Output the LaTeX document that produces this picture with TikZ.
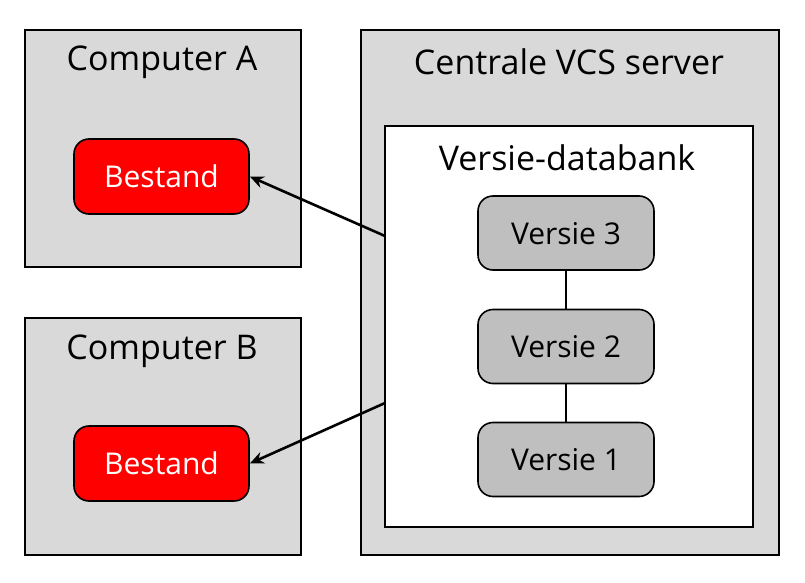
\documentclass[tikz,border=0pt]{standalone}
\usepackage{fontspec}
\setmainfont{Open Sans}
\usetikzlibrary{arrows.meta}
\definecolor{boxgray}{HTML}{D9D9D9}
\definecolor{vergray}{HTML}{BFBFBF}
\definecolor{filered}{HTML}{FF0000}
\tikzset{
  frame/.style={draw=black, line width=2pt, fill=boxgray, inner sep=0pt, anchor=north west},
  dbframe/.style={draw=black, line width=2pt, fill=white, inner sep=0pt, anchor=north west},
  filebox/.style={draw=black, line width=1.6pt, fill=filered, rounded corners=15pt,
    minimum width=175pt, minimum height=75pt, inner sep=0pt, text=white,
    font=\fontsize{30}{34}\selectfont, text depth=0pt},
  verbox/.style={draw=black, line width=1.6pt, fill=vergray, rounded corners=15pt,
    minimum width=176pt, minimum height=74pt, inner sep=0pt,
    font=\fontsize{30}{34}\selectfont, text depth=0pt},
  title/.style={font=\fontsize{34}{40}\selectfont, inner sep=0pt},
  push/.style={line width=2.6pt, -{Stealth[length=14pt, width=12pt]}},
  link/.style={line width=2.2pt}
}
\begin{document}
\begin{tikzpicture}[x=1pt, y=-1pt]
  \useasboundingbox (0,0) rectangle (805,583);
  % client machines
  \node[frame, minimum width=276pt, minimum height=237pt] (compA) at (24,29) {};
  \node[title] (compAt) at (162,62) {Computer A};
  \node[filebox] (bA) at (161.5,176.5) {Bestand};
  \node[frame, minimum width=276pt, minimum height=237pt] (compB) at (24,317) {};
  \node[title] (compBt) at (162,351) {Computer B};
  \node[filebox] (bB) at (161.5,463.5) {Bestand};
  % central server with its version database
  \node[frame, minimum width=418pt, minimum height=525pt] (srv) at (360,29) {};
  \node[title] (srvt) at (569,62) {Centrale VCS server};
  \node[dbframe, minimum width=368pt, minimum height=401pt] (db) at (384,125) {};
  \node[title] (dbt) at (567,158) {Versie-databank};
  \node[verbox] (v3) at (566,233) {Versie 3};
  \node[verbox] (v2) at (566,346.5) {Versie 2};
  \node[verbox] (v1) at (566,459.5) {Versie 1};
  \draw[link] (v3.south) -- (v2.north);
  \draw[link] (v2.south) -- (v1.north);
  % checkouts to the clients
  \coordinate (outA) at (385,236);
  \coordinate (outB) at (385,403);
  \draw[push] (outA) -- (bA.east);
  \draw[push] (outB) -- (bB.east);
\end{tikzpicture}
\end{document}
